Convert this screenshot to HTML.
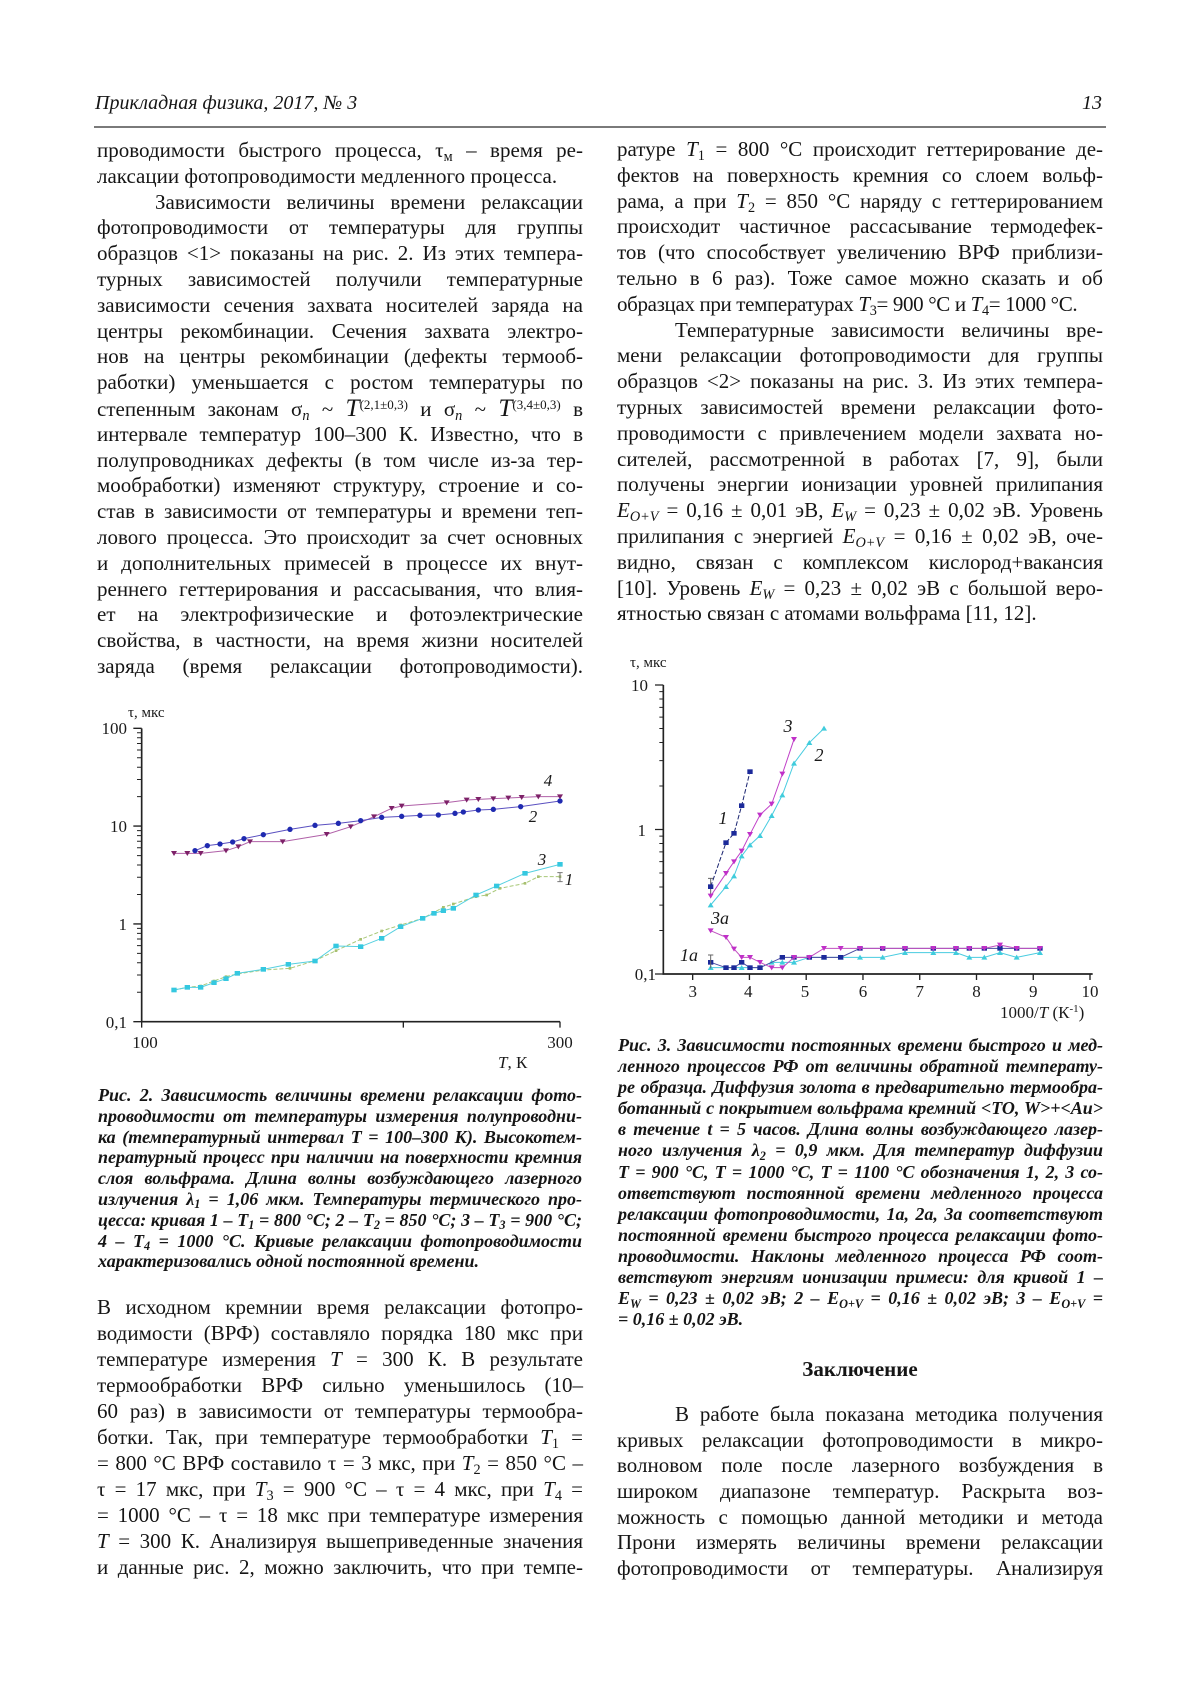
<!DOCTYPE html>
<html><head><meta charset="utf-8">
<style>
body{margin:0;width:1200px;height:1698px;background:#fff;position:relative;overflow:hidden;font-family:"Liberation Serif","DejaVu Serif",serif;color:#151515}
.col{position:absolute;font-size:21px;line-height:25.8px}
.col div{text-align:justify;text-align-last:justify;height:25.8px}
.col div.e{text-align-last:left;white-space:nowrap}
.in{padding-left:58px}
sub{font-size:0.68em;vertical-align:baseline;position:relative;top:0.28em;line-height:0}
sup{font-size:0.62em;vertical-align:baseline;position:relative;top:-0.5em;line-height:0}
.cap{position:absolute;font-size:18px;font-weight:bold;font-style:italic}
.cap div{text-align:justify;text-align-last:justify}
.cap div.e{text-align-last:left;white-space:nowrap}
i{font-style:italic}
svg text{font-family:"Liberation Serif",serif;fill:#1a1a1a}
</style></head><body>

<div style="position:absolute;left:95px;top:91px;font-size:20px;line-height:24px;font-style:italic;">Прикладная физика, 2017, № 3</div>
<div style="position:absolute;left:1000px;width:102px;text-align:right;top:91px;font-size:20px;line-height:24px;font-style:italic;">13</div>
<div style="position:absolute;left:94px;top:126px;width:1012px;height:1.6px;background:#7a7a7a"></div>

<div class="col" style="left:97px;top:138px;width:486px">
<div>проводимости быстрого процесса, τ<sub>м</sub> – время ре-</div>
<div class="e">лаксации фотопроводимости медленного процесса.</div>
<div class="in">Зависимости величины времени релаксации</div>
<div>фотопроводимости от температуры для группы</div>
<div>образцов &lt;1&gt; показаны на рис. 2. Из этих темпера-</div>
<div>турных зависимостей получили температурные</div>
<div>зависимости сечения захвата носителей заряда на</div>
<div>центры рекомбинации. Сечения захвата электро-</div>
<div>нов на центры рекомбинации (дефекты термооб-</div>
<div>работки) уменьшается с ростом температуры по</div>
<div>степенным законам σ<sub><i>n</i></sub> ~ <i style="font-size:1.2em">T</i><sup>(2,1±0,3)</sup> и σ<sub><i>n</i></sub> ~ <i style="font-size:1.2em">T</i><sup>(3,4±0,3)</sup> в</div>
<div>интервале температур 100–300 К. Известно, что в</div>
<div>полупроводниках дефекты (в том числе из-за тер-</div>
<div>мообработки) изменяют структуру, строение и со-</div>
<div>став в зависимости от температуры и времени теп-</div>
<div>лового процесса. Это происходит за счет основных</div>
<div>и дополнительных примесей в процессе их внут-</div>
<div>реннего геттерирования и рассасывания, что влия-</div>
<div>ет на электрофизические и фотоэлектрические</div>
<div>свойства, в частности, на время жизни носителей</div>
<div>заряда (время релаксации фотопроводимости).</div>
</div>

<div class="col" style="left:617px;top:137px;width:486px">
<div>ратуре <i>T</i><sub>1</sub> = 800 °C происходит геттерирование де-</div>
<div>фектов на поверхность кремния со слоем вольф-</div>
<div>рама, а при <i>T</i><sub>2</sub> = 850 °C наряду с геттерированием</div>
<div>происходит частичное рассасывание термодефек-</div>
<div>тов (что способствует увеличению ВРФ приблизи-</div>
<div>тельно в 6 раз). Тоже самое можно сказать и об</div>
<div class="e" style="letter-spacing:-0.35px">образцах при температурах <i>T</i><sub>3</sub>= 900 °C и <i>T</i><sub>4</sub>= 1000 °C.</div>
<div class="in">Температурные зависимости величины вре-</div>
<div>мени релаксации фотопроводимости для группы</div>
<div>образцов &lt;2&gt; показаны на рис. 3. Из этих темпера-</div>
<div>турных зависимостей времени релаксации фото-</div>
<div>проводимости с привлечением модели захвата но-</div>
<div>сителей, рассмотренной в работах [7, 9], были</div>
<div>получены энергии ионизации уровней прилипания</div>
<div><i>E</i><sub><i>O+V</i></sub> = 0,16 ± 0,01 эВ, <i>E</i><sub><i>W</i></sub> = 0,23 ± 0,02 эВ. Уровень</div>
<div>прилипания с энергией <i>E</i><sub><i>O+V</i></sub> = 0,16 ± 0,02 эВ, оче-</div>
<div>видно, связан с комплексом кислород+вакансия</div>
<div>[10]. Уровень <i>E</i><sub><i>W</i></sub> = 0,23 ± 0,02 эВ с большой веро-</div>
<div class="e">ятностью связан с атомами вольфрама [11, 12].</div>
</div>

<div class="cap" style="left:98px;top:1085px;width:484px;line-height:20.8px">
<div>Рис. 2. Зависимость величины времени релаксации фото-</div>
<div>проводимости от температуры измерения полупроводни-</div>
<div>ка (температурный интервал T = 100–300 К). Высокотем-</div>
<div>пературный процесс при наличии на поверхности кремния</div>
<div>слоя вольфрама. Длина волны возбуждающего лазерного</div>
<div>излучения λ<sub>1</sub> = 1,06 мкм. Температуры термического про-</div>
<div>цесса: кривая 1 – T<sub>1</sub> = 800 °C; 2 – T<sub>2</sub> = 850 °C; 3 – T<sub>3</sub> = 900 °C;</div>
<div>4 – T<sub>4</sub> = 1000 °C. Кривые релаксации фотопроводимости</div>
<div class="e">характеризовались одной постоянной времени.</div>
</div>

<div class="cap" style="left:618px;top:1035px;width:485px;line-height:21.1px">
<div>Рис. 3. Зависимости постоянных времени быстрого и мед-</div>
<div>ленного процессов РФ от величины обратной температу-</div>
<div>ре образца. Диффузия золота в предварительно термообра-</div>
<div>ботанный с покрытием вольфрама кремний &lt;TO, W&gt;+&lt;Au&gt;</div>
<div>в течение t = 5 часов. Длина волны возбуждающего лазер-</div>
<div>ного излучения λ<sub>2</sub> = 0,9 мкм. Для температур диффузии</div>
<div>T = 900 °C, T = 1000 °C, T = 1100 °C обозначения 1, 2, 3 со-</div>
<div>ответствуют постоянной времени медленного процесса</div>
<div>релаксации фотопроводимости, 1a, 2a, 3a соответствуют</div>
<div>постоянной времени быстрого процесса релаксации фото-</div>
<div>проводимости. Наклоны медленного процесса РФ соот-</div>
<div>ветствуют энергиям ионизации примеси: для кривой 1 –</div>
<div>E<sub>W</sub> = 0,23 ± 0,02 эВ; 2 – E<sub>O+V</sub> = 0,16 ± 0,02 эВ; 3 – E<sub>O+V</sub> =</div>
<div class="e">= 0,16 ± 0,02 эВ.</div>
</div>

<div class="col" style="left:97px;top:1294px;width:486px;line-height:26px">
<div style="height:26px">В исходном кремнии время релаксации фотопро-</div>
<div style="height:26px">водимости (ВРФ) составляло порядка 180 мкс при</div>
<div style="height:26px">температуре измерения <i>T</i> = 300 К. В результате</div>
<div style="height:26px">термообработки ВРФ сильно уменьшилось (10–</div>
<div style="height:26px">60 раз) в зависимости от температуры термообра-</div>
<div style="height:26px">ботки. Так, при температуре термообработки <i>T</i><sub>1</sub> =</div>
<div style="height:26px">= 800 °C ВРФ составило τ = 3 мкс, при <i>T</i><sub>2</sub> = 850 °C –</div>
<div style="height:26px">τ = 17 мкс, при <i>T</i><sub>3</sub> = 900 °C – τ = 4 мкс, при <i>T</i><sub>4</sub> =</div>
<div style="height:26px">= 1000 °C – τ = 18 мкс при температуре измерения</div>
<div style="height:26px"><i>T</i> = 300 К. Анализируя вышеприведенные значения</div>
<div style="height:26px">и данные рис. 2, можно заключить, что при темпе-</div>
</div>

<div style="position:absolute;left:617px;width:486px;top:1357px;font-size:21px;line-height:25.8px;font-weight:bold;text-align:center">Заключение</div>

<div class="col" style="left:617px;top:1402px;width:486px;line-height:25.7px">
<div class="in" style="height:25.7px">В работе была показана методика получения</div>
<div style="height:25.7px">кривых релаксации фотопроводимости в микро-</div>
<div style="height:25.7px">волновом поле после лазерного возбуждения в</div>
<div style="height:25.7px">широком диапазоне температур. Раскрыта воз-</div>
<div style="height:25.7px">можность с помощью данной методики и метода</div>
<div style="height:25.7px">Прони измерять величины времени релаксации</div>
<div style="height:25.7px">фотопроводимости от температуры. Анализируя</div>
</div>

<svg width="1200" height="1698" viewBox="0 0 1200 1698" style="position:absolute;left:0;top:0" xmlns="http://www.w3.org/2000/svg">
<defs>
<marker id="circB" viewBox="-10 -10 20 20" markerWidth="20" markerHeight="20" markerUnits="userSpaceOnUse"><circle r="8" fill="#1f2ab0"/></marker>
<marker id="tdP" viewBox="-10 -10 20 20" markerWidth="20" markerHeight="20" markerUnits="userSpaceOnUse"><path d="M-9,-7L9,-7L0,8Z" fill="#7d2168"/></marker>
<marker id="sqC" viewBox="-10 -10 20 20" markerWidth="20" markerHeight="20" markerUnits="userSpaceOnUse"><rect x="-8" y="-7" width="16" height="14" fill="#35c8e0"/></marker>
<marker id="sqG" viewBox="-10 -10 20 20" markerWidth="20" markerHeight="20" markerUnits="userSpaceOnUse"><rect x="-4" y="-4" width="8" height="8" fill="#a8c070"/></marker>
<marker id="sqN" viewBox="-10 -10 20 20" markerWidth="20" markerHeight="20" markerUnits="userSpaceOnUse"><rect x="-8" y="-7" width="16" height="14" fill="#1c2a9a"/></marker>
<marker id="tdM" viewBox="-10 -10 20 20" markerWidth="20" markerHeight="20" markerUnits="userSpaceOnUse"><path d="M-9,-7L9,-7L0,8Z" fill="#c030c8"/></marker>
<marker id="tuC" viewBox="-10 -10 20 20" markerWidth="20" markerHeight="20" markerUnits="userSpaceOnUse"><path d="M-9,7L9,7L0,-8Z" fill="#40ccdc"/></marker>
</defs>

<!-- Figure 2 -->
<g transform="translate(100 700) scale(0.333333)">
<path d="M125,85V965H1380" fill="none" stroke="#222" stroke-width="5"/>
<path d="M125,85h-25M125,378.3h-25M125,671.7h-25M125,965h-25M125,965v18M910,965v18M1380,965v18" stroke="#222" stroke-width="4"/>
<path d="M125,876.7h-14M125,825.1h-14M125,788.4h-14M125,760h-14M125,736.7h-14M125,717.1h-14M125,700.1h-14M125,685.1h-14M125,583.4h-14M125,531.8h-14M125,495.1h-14M125,466.7h-14M125,443.4h-14M125,423.8h-14M125,406.8h-14M125,391.8h-14M125,290h-14M125,238.4h-14M125,201.7h-14M125,173.3h-14M125,150h-14M125,130.4h-14M125,113.4h-14M125,98.4h-14" stroke="#222" stroke-width="3"/>
<polyline points="222,870 262,862 302,858 342,843 378,830 412,822 490,810 570,805 645,782 708,752 782,718 845,693 902,675 968,655 1030,622 1060,612 1128,590 1160,585 1200,565 1275,550 1315,530 1380,530" fill="none" stroke="#a8c878" stroke-width="3" stroke-dasharray="12 6" marker-start="url(#sqG)" marker-mid="url(#sqG)" marker-end="url(#sqG)"/>
<path d="M1380,518V545M1372,518h16M1372,545h16" stroke="#777" stroke-width="3"/>
<polyline points="222,870 262,862 302,862 342,848 378,836 412,820 490,808 565,793 645,783 708,738 782,740 845,715 902,680 968,655 1002,640 1030,632 1060,625 1128,585 1190,558 1275,520 1380,493" fill="none" stroke="#55d0e0" stroke-width="3" marker-start="url(#sqC)" marker-mid="url(#sqC)" marker-end="url(#sqC)"/>
<polyline points="222,460 262,460 302,460 378,452 415,440 450,425 548,425 680,403 752,380 822,350 875,325 905,318 1040,308 1100,300 1135,298 1180,296 1225,294 1265,292 1315,290 1380,290" fill="none" stroke="#b060a8" stroke-width="3" marker-start="url(#tdP)" marker-mid="url(#tdP)" marker-end="url(#tdP)"/>
<polyline points="285,452 322,437 360,432 398,426 432,416 490,404 570,388 645,376 715,370 782,362 845,352 905,349 960,346 1015,345 1065,340 1090,336 1135,330 1180,328 1262,320 1380,303" fill="none" stroke="#5a50c0" stroke-width="3" marker-start="url(#circB)" marker-mid="url(#circB)" marker-end="url(#circB)"/>
</g>
<text x="128" y="717" font-size="15">τ, мкс</text>
<text x="127" y="734" font-size="17" text-anchor="end">100</text>
<text x="127" y="832" font-size="17" text-anchor="end">10</text>
<text x="127" y="930" font-size="17" text-anchor="end">1</text>
<text x="127" y="1028" font-size="17" text-anchor="end">0,1</text>
<text x="145" y="1048" font-size="17" text-anchor="middle">100</text>
<text x="560" y="1048" font-size="17" text-anchor="middle">300</text>
<text x="498" y="1068" font-size="17"><tspan font-style="italic">T</tspan>, К</text>
<text x="548" y="786" font-size="17" font-style="italic" text-anchor="middle">4</text>
<text x="533" y="822" font-size="17" font-style="italic" text-anchor="middle">2</text>
<text x="542" y="865" font-size="17" font-style="italic" text-anchor="middle">3</text>
<text x="569" y="885" font-size="17" font-style="italic" text-anchor="middle">1</text>

<!-- Figure 3 -->
<g transform="translate(620 650) scale(0.333333)">
<path d="M130,105V972H1418" fill="none" stroke="#222" stroke-width="5"/>
<path d="M130,105h-25M130,538.5h-25M130,972h-25M218,972v18M388.3,972v18M558.6,972v18M728.9,972v18M899.2,972v18M1069.5,972v18M1239.8,972v18M1410,972v18" stroke="#222" stroke-width="4"/>
<path d="M130,841.5h-12M130,765.2h-12M130,711h-12M130,669h-12M130,634.7h-12M130,605.7h-12M130,580.5h-12M130,558.4h-12M130,408h-12M130,331.7h-12M130,277.5h-12M130,235.5h-12M130,201.2h-12M130,172.2h-12M130,147h-12M130,124.9h-12" stroke="#222" stroke-width="3"/>
<polyline points="272,953 318,953 342,953 365,953 390,953 420,953 455,937 487,937 522,937 568,922 612,922 662,922 720,922 788,922 855,908 940,908 1008,908 1048,922 1093,922 1140,908 1190,922 1260,908" fill="none" stroke="#48cce0" stroke-width="3" marker-start="url(#tuC)" marker-mid="url(#tuC)" marker-end="url(#tuC)"/>
<polyline points="272,937 318,953 342,953 365,937 390,953 420,953 487,922 522,922 568,922 612,922 662,922 720,895 788,895 855,895 940,895 1008,895 1048,895 1093,895 1140,895 1190,895 1260,895" fill="none" stroke="#4a4aa0" stroke-width="3" marker-start="url(#sqN)" marker-mid="url(#sqN)" marker-end="url(#sqN)"/>
<polyline points="272,842 318,862 342,897 365,922 390,922 420,937 455,953 487,953 522,922 568,922 612,895 662,895 720,895 788,895 855,895 940,895 1008,895 1048,895 1093,895 1140,885 1190,895 1260,895" fill="none" stroke="#c050c0" stroke-width="3" marker-start="url(#tdM)" marker-mid="url(#tdM)" marker-end="url(#tdM)"/>
<path d="M272,915V955M264,915h16M272,685V735M264,685h16" stroke="#666" stroke-width="3"/>
<polyline points="272,765 318,710 342,678 365,618 390,585 420,557 455,497 487,435 522,340 568,278 612,235" fill="none" stroke="#48cce0" stroke-width="3" marker-start="url(#tuC)" marker-mid="url(#tuC)" marker-end="url(#tuC)"/>
<polyline points="272,738 318,670 342,635 365,603 390,553 420,495 455,462 487,372 522,268" fill="none" stroke="#c040c8" stroke-width="3" marker-start="url(#tdM)" marker-mid="url(#tdM)" marker-end="url(#tdM)"/>
<polyline points="272,710 318,578 342,550 365,467 390,365" fill="none" stroke="#1a2470" stroke-width="3" stroke-dasharray="14 6" marker-start="url(#sqN)" marker-mid="url(#sqN)" marker-end="url(#sqN)"/>
</g>
<text x="630" y="667" font-size="15">τ, мкс</text>
<text x="648" y="691" font-size="17" text-anchor="end">10</text>
<text x="646" y="836" font-size="17" text-anchor="end">1</text>
<text x="656" y="980" font-size="17" text-anchor="end">0,1</text>
<text x="692.7" y="997" font-size="17" text-anchor="middle">3</text>
<text x="748.3" y="997" font-size="17" text-anchor="middle">4</text>
<text x="805" y="997" font-size="17" text-anchor="middle">5</text>
<text x="863" y="997" font-size="17" text-anchor="middle">6</text>
<text x="919.7" y="997" font-size="17" text-anchor="middle">7</text>
<text x="976.5" y="997" font-size="17" text-anchor="middle">8</text>
<text x="1033.3" y="997" font-size="17" text-anchor="middle">9</text>
<text x="1090" y="997" font-size="17" text-anchor="middle">10</text>
<text x="1000" y="1018" font-size="17">1000/<tspan font-style="italic">T</tspan> (К<tspan font-size="11" dy="-6">-1</tspan><tspan dy="6">)</tspan></text>
<text x="788" y="732" font-size="18" font-style="italic" text-anchor="middle">3</text>
<text x="819" y="761" font-size="18" font-style="italic" text-anchor="middle">2</text>
<text x="723" y="824" font-size="18" font-style="italic" text-anchor="middle">1</text>
<text x="720" y="924" font-size="18" font-style="italic" text-anchor="middle">3a</text>
<text x="689" y="961" font-size="18" font-style="italic" text-anchor="middle">1a</text>
</svg>
</body></html>
